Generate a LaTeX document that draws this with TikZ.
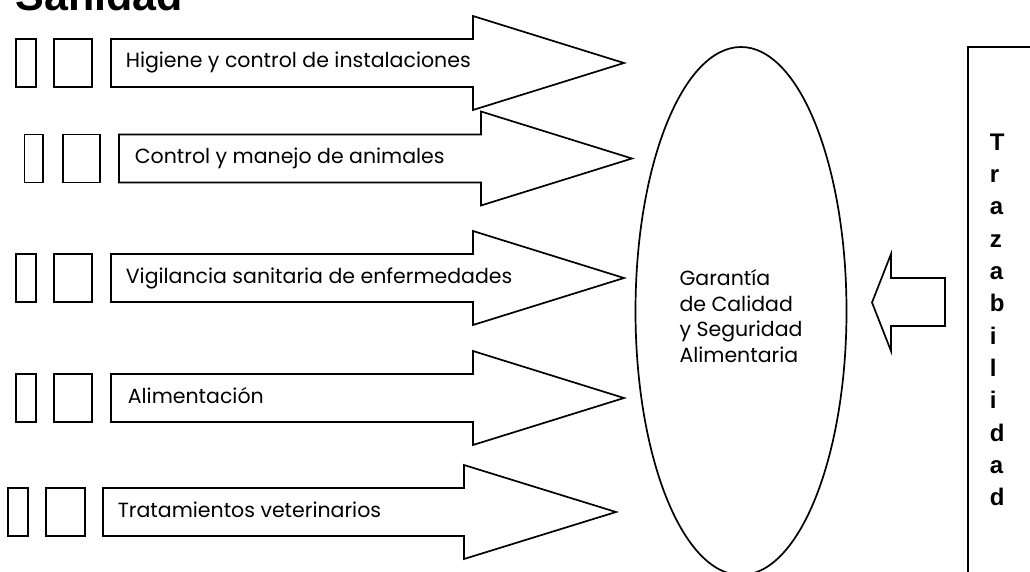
\documentclass[tikz,border=0pt]{standalone}
\usepackage{fontspec}
\setmainfont{Poppins}
\newfontfamily\arialfont{Liberation Sans}

\begin{document}
\begin{tikzpicture}[x=1pt,y=-1pt,line width=1.7pt,line join=miter,
    outline/.style={draw=black,fill=white},
    label/.style={anchor=base west,inner sep=0pt,font=\fontsize{20.5}{24}\selectfont}]
    \useasboundingbox (0,0) rectangle (1030,572);
    \clip (0,0) rectangle (1030,572);
    % title, cut by the top edge
    \node[anchor=base west,inner sep=0pt,font=\arialfont\bfseries\fontsize{43}{50}\selectfont] (title) at (15,11) {Sanidad};
    % row 1
    \draw[outline] (16,39) rectangle (36,87);
    \draw[outline] (54,39) rectangle (92,87);
    \draw[outline] (111,39) -- (473,39) -- (473,16) -- (624,63) -- (473,110) -- (473,87) -- (111,87) -- cycle;
    \node[label] (higiene) at (125,68) {Higiene y control de instalaciones};
    % row 2
    \draw[outline] (24.5,134.5) rectangle (43,182.5);
    \draw[outline] (63,134.5) rectangle (100,182.5);
    \draw[outline] (119,134.5) -- (481,134.5) -- (481,111.5) -- (632,158.5) -- (481,205.5) -- (481,182.5) -- (119,182.5) -- cycle;
    \node[label] (control) at (134,163.5) {Control y manejo de animales};
    % row 3
    \draw[outline] (16,254) rectangle (36,302);
    \draw[outline] (54,254) rectangle (92,302);
    \draw[outline] (111,254) -- (473,254) -- (473,231) -- (624,278) -- (473,325) -- (473,302) -- (111,302) -- cycle;
    \node[label] (vigilancia) at (125,283) {Vigilancia sanitaria de enfermedades};
    % row 4
    \draw[outline] (16,374) rectangle (36,422);
    \draw[outline] (54,374) rectangle (92,422);
    \draw[outline] (111,374) -- (473,374) -- (473,351) -- (624,398) -- (473,445) -- (473,422) -- (111,422) -- cycle;
    \node[label] (alimentacion) at (127,403) {Alimentación};
    % row 5
    \draw[outline] (8,488) rectangle (28,536);
    \draw[outline] (46,488) rectangle (85,536);
    \draw[outline] (103,488) -- (464,488) -- (464,465) -- (616,512) -- (464,559) -- (464,536) -- (103,536) -- cycle;
    \node[label] (tratamientos) at (117,517) {Tratamientos veterinarios};
    % goal
    \draw (741,311) ellipse [x radius=105.5,y radius=264];
    \node[align=left,inner sep=0pt,font=\fontsize{20.5}{25.5}\selectfont] (garantia) at (741,316)
        {Garantía\\de Calidad\\y Seguridad\\Alimentaria};
    % traceability
    \draw[outline] (945,278) -- (891,278) -- (891,254) -- (872,302.5) -- (891,351) -- (891,326) -- (945,326) -- cycle;
    \draw (1040,47) -- (968,47) -- (968,590);
    \node[anchor=north west,align=left,inner sep=0pt,font=\arialfont\bfseries\fontsize{24}{32.3}\selectfont] (traza) at (989,133)
        {T\\r\\a\\z\\a\\b\\i\\l\\i\\d\\a\\d};
\end{tikzpicture}
\end{document}
